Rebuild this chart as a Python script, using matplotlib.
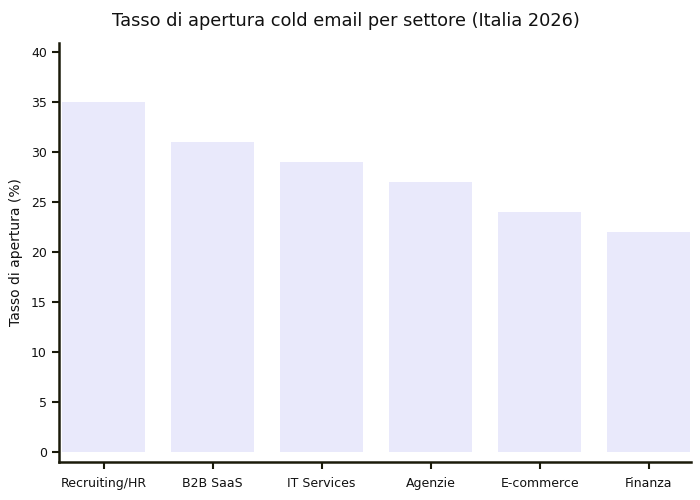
import matplotlib
matplotlib.use("Agg")
import matplotlib.pyplot as plt

categories = ["Recruiting/HR", "B2B SaaS", "IT Services", "Agenzie", "E-commerce", "Finanza"]
values = [35, 31, 29, 27, 24, 22]
yticks = [0, 5, 10, 15, 20, 25, 30, 35, 40]

plt.rcParams['font.family'] = ['DejaVu Sans']

fig = plt.figure(figsize=(7, 5), dpi=100)
ax = fig.add_axes([0.084, 0.076, 0.903, 0.838])

x = list(range(len(categories)))
ax.bar(x, values, width=0.76, color="#E9E9FB")

ax.set_xlim(-0.41, 5.385)
ax.set_ylim(-1.0, 40.9)
ax.set_xticks(x)
ax.set_xticklabels(categories, fontsize=9)
ax.set_yticks(yticks)
ax.set_yticklabels([str(t) for t in yticks], fontsize=9)

for s in ["top", "right"]:
    ax.spines[s].set_visible(False)
for s in ["left", "bottom"]:
    ax.spines[s].set_linewidth(1.8)
    ax.spines[s].set_color("#1a1a0a")
ax.tick_params(axis="both", length=5, width=1.5, color="#1a1a0a", labelcolor="#111111")
ax.tick_params(axis="x", pad=6)

ax.set_ylabel("Tasso di apertura (%)", fontsize=10, color="#111111", labelpad=6)
fig.suptitle("Tasso di apertura cold email per settore (Italia 2026)", x=0.494, y=0.975,
             fontsize=12.8, color="#111111")

fig.savefig("out.png", dpi=100)
